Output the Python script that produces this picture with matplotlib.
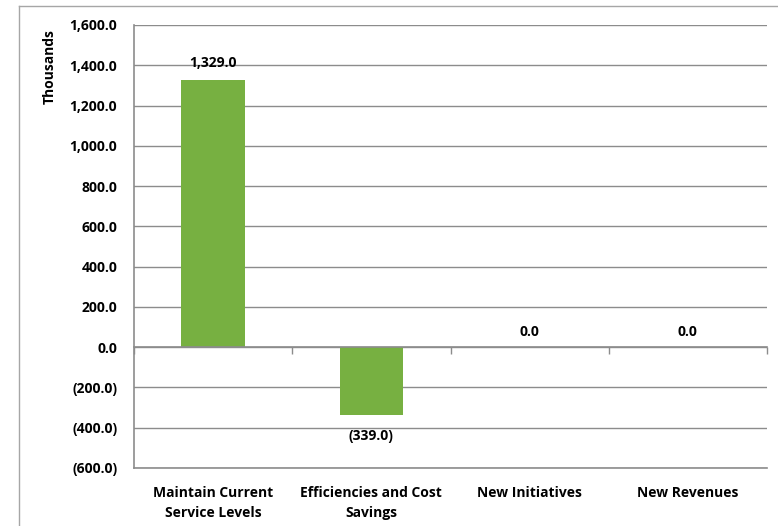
import matplotlib
matplotlib.use("Agg")
import matplotlib.pyplot as plt
from matplotlib.ticker import FuncFormatter, FixedLocator
from matplotlib.lines import Line2D

categories = ["Maintain Current\nService Levels", "Efficiencies and Cost\nSavings",
              "New Initiatives", "New Revenues"]
values = [1329.0, -339.0, 0.0, 0.0]
y_ticks = [-600, -400, -200, 0, 200, 400, 600, 800, 1000, 1200, 1400, 1600]

plt.rcParams['font.family'] = ['Open Sans', 'DejaVu Sans']
plt.rcParams['font.weight'] = 'bold'
FS = 10
GRID = '#8C8C8C'
BAR = '#77B041'

fig = plt.figure(figsize=(7.78, 5.26), dpi=100)
ax = fig.add_axes([134/778, 1-468/526, (767-134)/778, (468-25)/526])

x = list(range(len(categories)))
ax.bar(x, values, width=0.4, color=BAR, zorder=3)

ax.set_xlim(-0.5, len(categories)-0.5)
ax.set_ylim(y_ticks[0], y_ticks[-1])
ax.yaxis.set_major_locator(FixedLocator(y_ticks))

def fmt(v, pos=None):
    if v < 0:
        return "({:,.1f})".format(-v)
    return "{:,.1f}".format(v)

ax.yaxis.set_major_formatter(FuncFormatter(fmt))
ax.grid(axis='y', color=GRID, lw=1, zorder=0)
ax.set_axisbelow(True)

ax.spines['right'].set_visible(False)
for s in ['left', 'bottom', 'top']:
    ax.spines[s].set_color(GRID)
    ax.spines[s].set_linewidth(1.2)
ax.spines['top'].set_position(('data', 0))
ax.spines['top'].set_zorder(4)

ax.set_xticks(x)
ax.set_xticklabels(categories, fontsize=FS, fontweight='bold', linespacing=1.55)
ax.xaxis.set_minor_locator(FixedLocator([i + 0.5 for i in range(-1, len(categories))]))
ax.tick_params(axis='x', which='major', length=0, pad=13, bottom=True, top=False)
ax.tick_params(axis='x', which='minor', length=5, top=True, bottom=False,
               direction='in', color=GRID, width=1)
ax.tick_params(axis='y', length=0, pad=12, labelsize=FS)
for lbl in ax.get_yticklabels():
    lbl.set_fontweight('bold')

for xi, v in zip(x, values):
    if v > 0:
        ax.annotate(fmt(v), (xi, v), xytext=(0, 7), textcoords='offset points',
                    ha='center', va='bottom', fontsize=FS, fontweight='bold')
    elif v < 0:
        ax.annotate(fmt(v), (xi, v), xytext=(0, -10), textcoords='offset points',
                    ha='center', va='top', fontsize=FS, fontweight='bold')
    else:
        ax.annotate(fmt(v), (xi, v), xytext=(0, 6), textcoords='offset points',
                    ha='center', va='bottom', fontsize=FS, fontweight='bold')

fig.text(50/778, 1-67/526, "Thousands", rotation=90, ha='center', va='center',
         fontsize=FS, fontweight='bold')

# outer chart border (left and top edges visible)
fig.add_artist(Line2D([19/778, 19/778], [0, 1-6/526], transform=fig.transFigure,
                      color='#A6A6A6', lw=1))
fig.add_artist(Line2D([19/778, 1], [1-6/526, 1-6/526], transform=fig.transFigure,
                      color='#A6A6A6', lw=1))

fig.savefig("out.png", dpi=100)
